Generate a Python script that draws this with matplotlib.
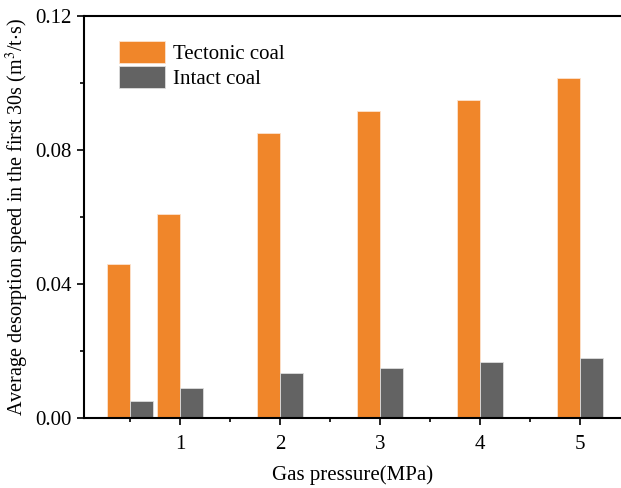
import matplotlib
matplotlib.use("Agg")
import matplotlib.pyplot as plt
import numpy as np
from matplotlib.ticker import MultipleLocator

plt.rcParams['font.family'] = ['Liberation Serif', 'DejaVu Serif']
plt.rcParams['mathtext.fontset'] = 'stix'

# data
pressure = [0.5, 1, 2, 3, 4, 5]
tectonic = [0.046, 0.061, 0.085, 0.0915, 0.095, 0.1015]
intact = [0.0052, 0.009, 0.0133, 0.015, 0.0167, 0.018]
xticks = [1, 2, 3, 4, 5]

orange = '#F0862A'
grey = '#636363'
w = 0.23

fig = plt.figure(figsize=(6.21, 4.88), dpi=100)
ax = fig.add_axes([0.135, 0.1434, 0.865, 0.824])

x = np.array(pressure)
ax.bar(x - w/2, tectonic, w, color=orange, edgecolor='#FCE3CF', linewidth=0.6, label='Tectonic coal')
ax.bar(x + w/2, intact, w, color=grey, edgecolor='#DDDDDD', linewidth=0.6, label='Intact coal')

ax.set_xlim(0.04, 5.41)
ax.set_ylim(0, 0.12)
ax.set_xticks(xticks)
ax.xaxis.set_minor_locator(MultipleLocator(0.5))
ax.set_yticks([0.0, 0.04, 0.08, 0.12])
ax.set_yticklabels(['0.00', '0.04', '0.08', '0.12'])
ax.yaxis.set_minor_locator(MultipleLocator(0.02))

ax.spines['right'].set_visible(False)
for s in ['left', 'bottom', 'top']:
    ax.spines[s].set_linewidth(1.5)
ax.tick_params(which='major', direction='out', length=5, width=1.2, labelsize=15)
ax.tick_params(which='minor', direction='out', length=3, width=1.2)
ax.tick_params(axis='x', pad=7)

ax.set_xlabel('Gas pressure(MPa)', fontsize=15, labelpad=8)
ax.set_ylabel('Average desorption speed in the first 30s (m$^3$/t$\\cdot$s)', fontsize=14.5, labelpad=3)

leg = ax.legend(loc='upper left', bbox_to_anchor=(0.03, 0.985), frameon=False,
                fontsize=15, handlelength=2.2, handleheight=1.3, handletextpad=0.4,
                labelspacing=0.08)

fig.savefig('out.png', dpi=100)
